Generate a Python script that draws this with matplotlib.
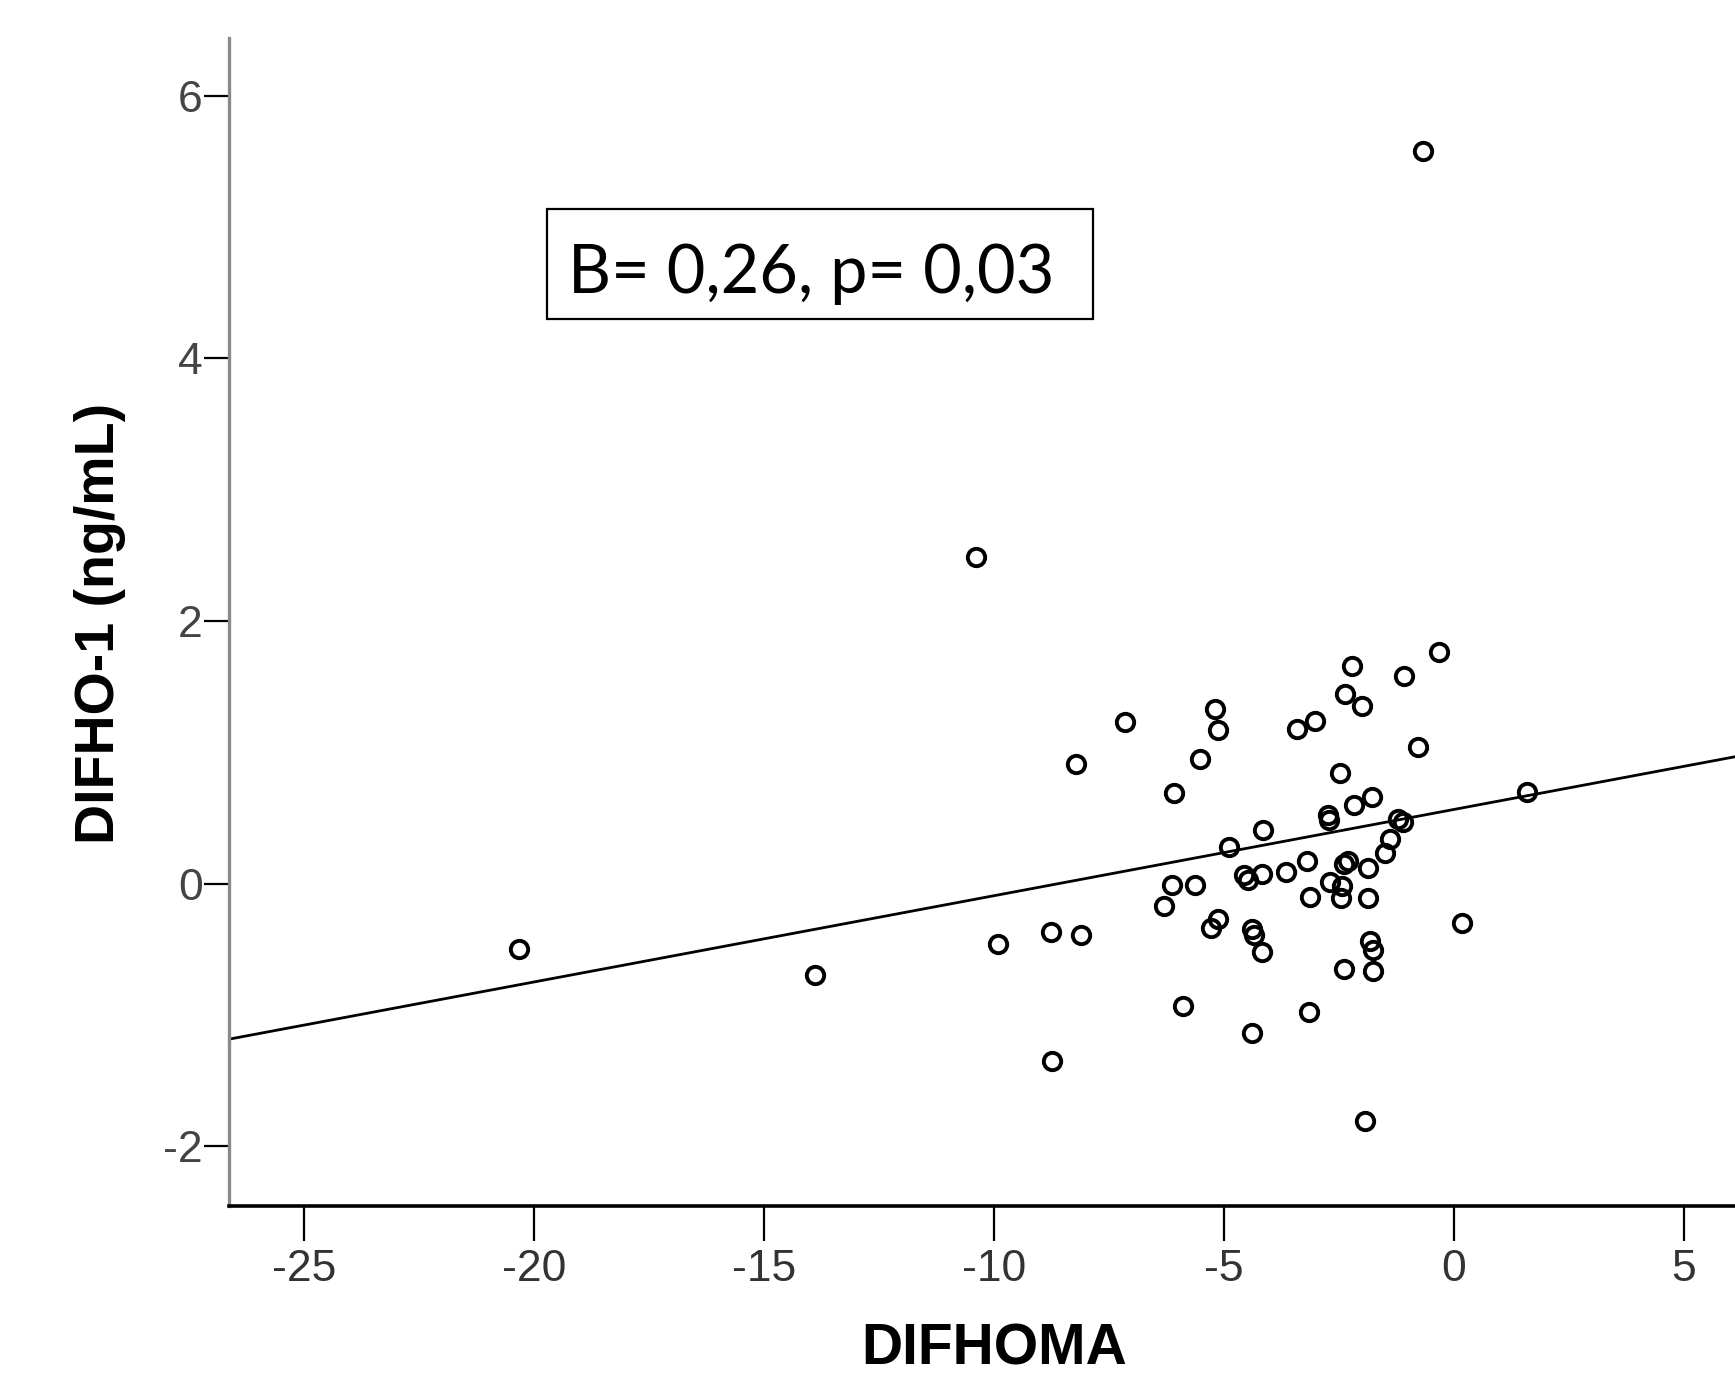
import numpy as np
import matplotlib
matplotlib.use('Agg')
import matplotlib.pyplot as plt
from matplotlib.patches import Rectangle

# values: DIFHOMA (x) vs DIFHO-1 (y)
difhoma = [-0.67, -10.39, -20.32, -13.88, -9.91, -8.75, -8.10, -8.73, -1.94, 0.17,
           1.58, -0.33, -7.14, -8.22, -6.08,
           -2.22, -1.08, -2.36, -2.00, -5.19, -5.12, -3.41, -3.02, -5.53, -0.79,
           -2.47, -1.78, -2.18, -2.73, -2.72, -4.14, -4.90, -1.10, -1.21, -1.38,
           -1.49, -3.20, -2.40, -2.30, -1.86, -3.65, -4.17, -4.57, -4.47, -6.13,
           -5.62, -6.30, -2.69, -2.43, -2.45, -3.12, -1.87, -5.12, -5.28, -4.39,
           -4.35, -4.17, -1.82, -1.75, -2.40, -1.76, -5.88, -3.16, -4.38]
difho1 = [5.58, 2.49, -0.50, -0.70, -0.46, -0.37, -0.39, -1.35, -1.81, -0.30,
          0.70, 1.76, 1.23, 0.91, 0.69,
          1.66, 1.58, 1.44, 1.35, 1.33, 1.17, 1.18, 1.24, 0.95, 1.04,
          0.84, 0.66, 0.60, 0.52, 0.48, 0.41, 0.28, 0.47, 0.49, 0.34,
          0.23, 0.17, 0.15, 0.17, 0.12, 0.09, 0.07, 0.065, 0.03, -0.01,
          -0.01, -0.17, 0.01, -0.02, -0.11, -0.10, -0.11, -0.27, -0.34, -0.35,
          -0.39, -0.52, -0.44, -0.51, -0.65, -0.67, -0.93, -0.98, -1.14]

# fitted line as drawn in the original
fit_slope = 0.0657
fit_intercept = 0.564

x_ticks = [-25, -20, -15, -10, -5, 0, 5]
y_ticks = [-2, 0, 2, 4, 6]
annotation = 'B= 0,26, p= 0,03'

plt.rcParams['axes.unicode_minus'] = False

W, H = 1735, 1380
fig = plt.figure(figsize=(W / 100, H / 100), dpi=100)
fig.patch.set_facecolor('white')

ax = fig.add_axes([228.9 / W, 1 - 1206 / H, 1 - 228.9 / W, (1206 - 38.3) / H])
ax.set_xlim(-26.63, 6.11)
ax.set_ylim(-2.456, 6.437)

ax.plot(difhoma, difho1, 'o', ms=12.5, mfc='none', mec='black', mew=2.8, zorder=3)

xl = np.array(ax.get_xlim())
ax.plot(xl, fit_intercept + fit_slope * xl, color='black', lw=2.0, zorder=2)

for s in ['top', 'right']:
    ax.spines[s].set_visible(False)
ax.spines['left'].set_color('#8a8a8a')
ax.spines['left'].set_linewidth(2.4)
ax.spines['bottom'].set_color('black')
ax.spines['bottom'].set_linewidth(2.6)

lab_font = ['Liberation Sans', 'DejaVu Sans']
ax.set_xticks(x_ticks)
ax.set_yticks(y_ticks)
ax.tick_params(axis='x', direction='out', length=25, width=1.6, pad=6,
               labelsize=32, labelcolor='#333333')
ax.tick_params(axis='y', direction='out', length=18, width=1.6, pad=1,
               labelsize=32, labelcolor='#444444')
for t in ax.get_xticklabels() + ax.get_yticklabels():
    t.set_family(lab_font)

ax.set_xlabel('DIFHOMA', family=lab_font, fontweight='bold', fontsize=41)
ax.xaxis.set_label_coords(0.508, -0.100)
ax.set_ylabel('DIFHO-1 (ng/mL)', family=lab_font, fontweight='bold', fontsize=40,
              va='center')
ax.yaxis.set_label_coords(-0.0856, 0.499)

# annotation box
fig.patches.append(Rectangle((546.6 / W, 1 - 318.7 / H), 546.6 / W, 109.6 / H,
                             transform=fig.transFigure, fill=False,
                             edgecolor='black', lw=1.6))
fig.text(567.6 / W, 1 - 293 / H, annotation, family=['Lato', 'DejaVu Sans'],
         fontsize=48, va='baseline', ha='left', color='black')

fig.savefig('out.png', dpi=100)
